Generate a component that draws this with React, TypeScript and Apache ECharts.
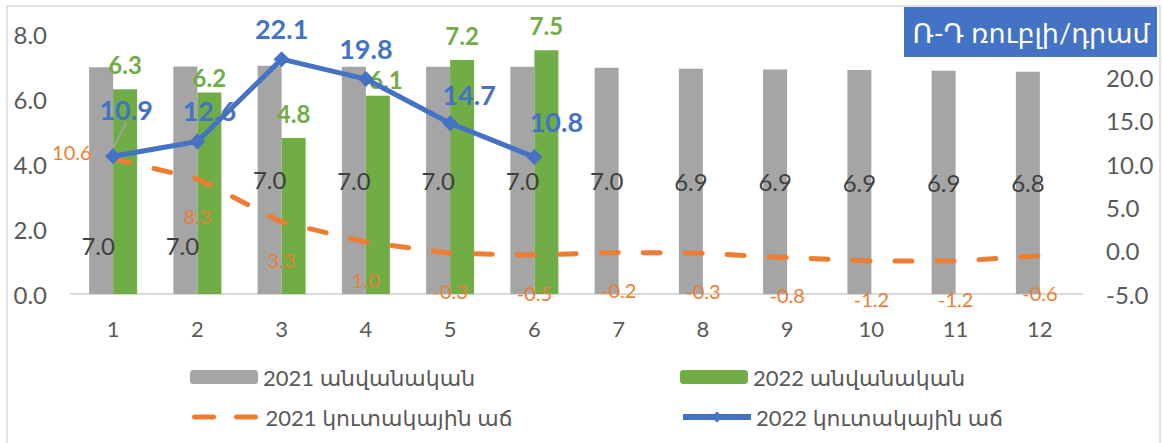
import React, { useEffect, useRef } from "react";
import * as echarts from "echarts";

const months = ["1", "2", "3", "4", "5", "6", "7", "8", "9", "10", "11", "12"];
const nominal2021 = [6.98, 7.0, 7.02, 6.99, 6.99, 6.99, 6.96, 6.93, 6.91, 6.89, 6.87, 6.84];
const nominal2022 = [6.3, 6.2, 4.8, 6.1, 7.2, 7.5];
const cumulative2021 = [10.6, 8.3, 3.3, 1.0, -0.3, -0.5, -0.2, -0.3, -0.8, -1.2, -1.2, -0.6];
const cumulative2022 = [10.9, 12.6, 22.1, 19.8, 14.7, 10.8];
const seriesNames = ["2021 անվանական", "2022 անվանական", "2021 կուտակային աճ", "2022 կուտակային աճ"];
const unitTitle = "Ռ-Դ ռուբլի/դրամ";

const FONT = "Lato, 'DejaVu Sans', sans-serif";
const GRAY = "#A5A5A5";
const GREEN = "#70AD47";
const ORANGE = "#ED7D31";
const BLUE = "#4472C4";
const AXIS_TEXT = "#595959";

const blueOffsets = [[13, -16], [12, 0], [0, 0], [0, 0], [19, 2], [22, -5]];

export default function App() {
  const ref = useRef<HTMLDivElement>(null);
  useEffect(() => {
    if (!ref.current) return;
    const chart = echarts.init(ref.current, null, { renderer: "svg" });
    const legendBase = {
      itemWidth: 68,
      itemHeight: 14,
      padding: 0,
      textStyle: { fontSize: 22, color: AXIS_TEXT, fontFamily: FONT },
    };
    chart.setOption({
      animation: false,
      textStyle: { fontFamily: FONT },
      grid: { left: 71, right: 81, top: 34, bottom: 149 },
      legend: [
        { ...legendBase, data: [seriesNames[0]], left: 190, top: 366 },
        { ...legendBase, data: [seriesNames[1]], left: 680, top: 366 },
        {
          ...legendBase,
          data: [
            {
              name: seriesNames[2],
              itemStyle: { opacity: 0 },
              lineStyle: { width: 5, type: [19, 23], cap: "round", dashOffset: -2 },
            },
          ],
          left: 190,
          top: 406,
        },
        {
          ...legendBase,
          data: [
            {
              name: seriesNames[3],
              lineStyle: { width: 6 },
            },
          ],
          left: 680,
          top: 406,
        },
      ],
      graphic: [
        {
          type: "rect",
          shape: { x: 7, y: 6, width: 1153, height: 460 },
          style: { fill: "none", stroke: "#D9D9D9", lineWidth: 1.5 },
          silent: true,
        },
        {
          type: "rect",
          shape: { x: 904, y: 7, width: 253, height: 50 },
          style: { fill: BLUE },
          z: 100,
        },
        {
          type: "text",
          x: 1031,
          y: 32,
          z: 101,
          style: {
            text: unitTitle,
            fill: "#FFFFFF",
            fontSize: 27,
            fontFamily: FONT,
            align: "center",
            verticalAlign: "middle",
          },
        },
      ],
      xAxis: {
        type: "category",
        data: months,
        axisTick: { show: false },
        axisLine: { lineStyle: { color: "#D9D9D9", width: 2 } },
        axisLabel: { fontSize: 22, color: AXIS_TEXT, margin: 23, fontFamily: FONT },
      },
      yAxis: [
        {
          type: "value",
          min: 0,
          max: 8,
          interval: 2,
          splitLine: { show: false },
          axisLine: { show: false },
          axisTick: { show: false },
          axisLabel: {
            fontSize: 24,
            color: AXIS_TEXT,
            margin: 24,
            fontFamily: FONT,
            formatter: (v: number) => v.toFixed(1),
          },
        },
        {
          type: "value",
          min: -5,
          max: 25,
          interval: 5,
          splitLine: { show: false },
          axisLine: { show: false },
          axisTick: { show: false },
          axisLabel: {
            fontSize: 24,
            color: AXIS_TEXT,
            margin: 24,
            fontFamily: FONT,
            showMaxLabel: false,
            formatter: (v: number) => v.toFixed(1),
          },
        },
      ],
      series: [
        {
          name: seriesNames[0],
          type: "bar",
          barWidth: 24,
          barGap: "0%",
          itemStyle: { color: GRAY },
          label: {
            show: true,
            position: "inside",
            fontSize: 24,
            color: "#404040",
            fontFamily: FONT,
            formatter: (p: any) => Number(p.value).toFixed(1),
          },
          data: nominal2021.map((v, i) =>
            i < 2 ? { value: v, label: { position: "insideBottom", distance: 37, offset: [-3, 0] } } : v
          ),
        },
        {
          name: seriesNames[1],
          type: "bar",
          barWidth: 24,
          barGap: "0%",
          itemStyle: { color: GREEN },
          label: {
            show: true,
            position: "top",
            distance: 13,
            fontSize: 24,
            fontWeight: "bold",
            color: GREEN,
            fontFamily: FONT,
            formatter: (p: any) => Number(p.value).toFixed(1),
          },
          data: nominal2022.map((v, i) =>
            i === 1
              ? { value: v, label: { distance: 3 } }
              : i === 3
              ? { value: v, label: { distance: 4, offset: [8, 0] } }
              : v
          ),
        },
        {
          name: seriesNames[2],
          type: "line",
          yAxisIndex: 1,
          symbol: "circle",
          symbolSize: 1,
          itemStyle: { color: ORANGE },
          lineStyle: { color: ORANGE, width: 5, type: [17, 25], cap: "round" },
          label: {
            show: true,
            position: "bottom",
            distance: 27,
            fontSize: 20,
            color: ORANGE,
            fontFamily: FONT,
            formatter: (p: any) => Number(p.value).toFixed(1),
          },
          data: cumulative2021.map((v, i) =>
            i === 0 ? { value: v, label: { position: "left", distance: 21, offset: [0, -7] } } : v
          ),
          z: 3,
        },
        {
          name: seriesNames[3],
          type: "line",
          yAxisIndex: 1,
          symbol: "diamond",
          symbolSize: 16,
          itemStyle: { color: BLUE },
          lineStyle: { color: BLUE, width: 5 },
          label: {
            show: true,
            position: "top",
            distance: 9,
            fontSize: 27,
            fontWeight: "bold",
            color: BLUE,
            fontFamily: FONT,
            formatter: (p: any) => Number(p.value).toFixed(1),
          },
          labelLayout: (p: any) => {
            const o = blueOffsets[p.dataIndex] || [0, 0];
            return { dx: o[0], dy: o[1] };
          },
          labelLine: { show: false },
          data: cumulative2022.map((v, i) =>
            i === 0
              ? { value: v, labelLine: { show: true, lineStyle: { color: GRAY, width: 1.5 } } }
              : { value: v, labelLine: { show: false } }
          ),
          z: 4,
        },
      ],
    });
    return () => chart.dispose();
  }, []);
  return (
    <div
      ref={ref}
      style={{ position: "absolute", left: 0, top: 0, width: 1163, height: 443, background: "#fff" }}
    />
  );
}
